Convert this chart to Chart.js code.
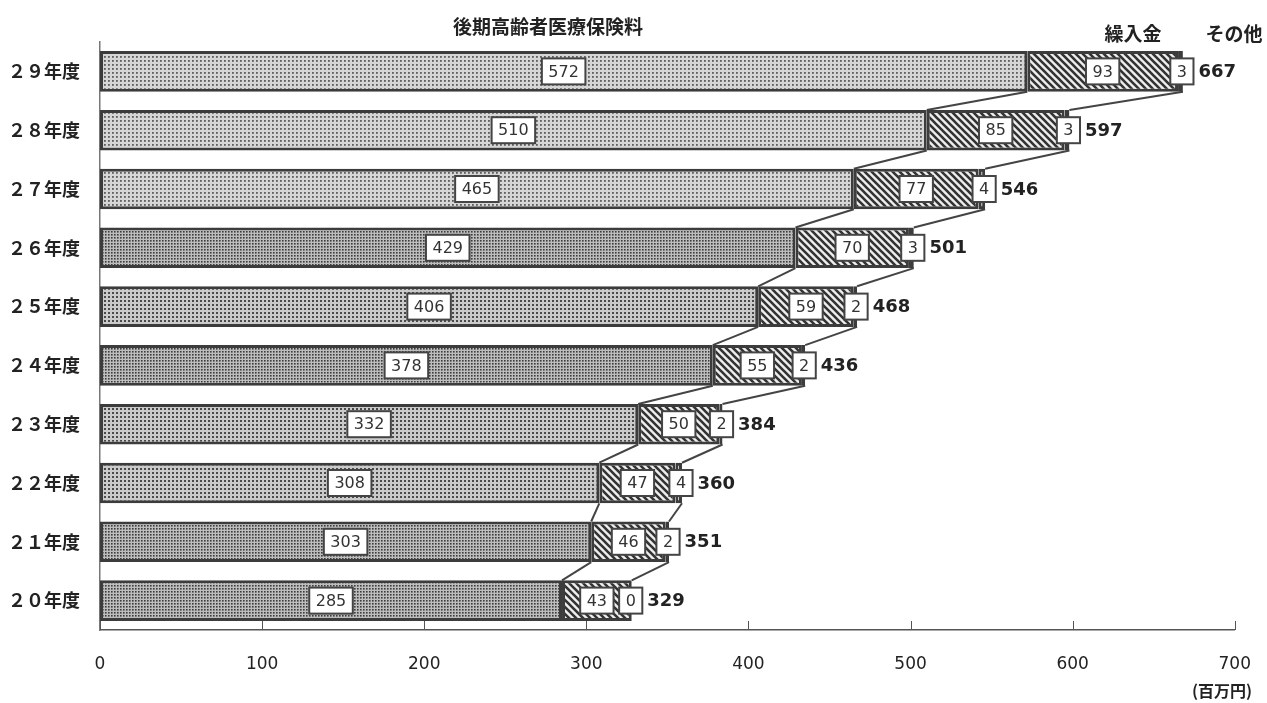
<!DOCTYPE html>
<html lang="ja">
<head>
<meta charset="utf-8">
<title>後期高齢者医療 財源の推移</title>
<script src="https://cdn.jsdelivr.net/npm/chart.js@4.4.1/dist/chart.umd.min.js"></script>
<style>
  html, body { margin: 0; padding: 0; background: #fff; }
  #wrap { position: relative; width: 1267px; height: 703px; }
</style>
</head>
<body>
<div id="wrap"><canvas id="chart"></canvas></div>
<script>
// 年度 (top to bottom)
const years = ["２９年度", "２８年度", "２７年度", "２６年度", "２５年度",
               "２４年度", "２３年度", "２２年度", "２１年度", "２０年度"];

// 財源別 (百万円)
const premium  = [572, 510, 465, 429, 406, 378, 332, 308, 303, 285]; // 後期高齢者医療保険料
const transfer = [93, 85, 77, 70, 59, 55, 50, 47, 46, 43];           // 繰入金
const other    = [3, 3, 4, 3, 2, 2, 2, 4, 2, 0];                     // その他
const totals   = [667, 597, 546, 501, 468, 436, 384, 360, 351, 329];

const seriesNames = ["後期高齢者医療保険料", "繰入金", "その他"];
const xTicks = [0, 100, 200, 300, 400, 500, 600, 700];
const unitLabel = "(百万円)";

const JP = '"Noto Sans CJK JP", "Noto Sans", sans-serif';
const NUM = '"DejaVu Sans", Verdana, sans-serif';
const INK = '#333';

// dotted screen like the printed original
function dotPattern(bg, dot, step, size) {
    const c = document.createElement('canvas');
    c.width = step; c.height = step;
    const g = c.getContext('2d');
    g.fillStyle = bg;
    g.fillRect(0, 0, step, step);
    g.fillStyle = dot;
    g.fillRect(0, 0, size, size);
    return g.createPattern(c, 'repeat');
}

function hatchPattern() {
    const s = 7;
    const c = document.createElement('canvas');
    c.width = s; c.height = s;
    const g = c.getContext('2d');
    g.fillStyle = '#eeeeee';
    g.fillRect(0, 0, s, s);
    g.strokeStyle = '#333';
    g.lineWidth = 2.6;
    g.beginPath();
    g.moveTo(-1, -1); g.lineTo(s + 1, s + 1);
    g.moveTo(-1, s - 1); g.lineTo(1, s + 1);
    g.moveTo(s - 1, -1); g.lineTo(s + 1, 1);
    g.stroke();
    return g.createPattern(c, 'repeat');
}

const lightDots = dotPattern('#d6d6d6', '#5e5e5e', 4, 1.8);
const midDots = dotPattern('#cacaca', '#4a4a4a', 4, 2);
const darkDots = dotPattern('#bdbdbd', '#3c3c3c', 3, 1.6);
const premiumFill = [lightDots, lightDots, lightDots, darkDots, midDots,
                     darkDots, midDots, midDots, darkDots, darkDots];

function drawBox(ctx, text, cx, cy) {
    ctx.font = '16px ' + NUM;
    const w = ctx.measureText(text).width + 13;
    const h = 26;
    ctx.fillStyle = '#fff';
    ctx.fillRect(cx - w / 2, cy - h / 2, w, h);
    ctx.strokeStyle = '#444';
    ctx.lineWidth = 2;
    ctx.strokeRect(cx - w / 2, cy - h / 2, w, h);
    ctx.fillStyle = INK;
    ctx.textAlign = 'center';
    ctx.textBaseline = 'middle';
    ctx.fillText(text, cx, cy + 1);
    return cx + w / 2;
}

// lines joining the segment ends of neighbouring bars
const connectors = {
    id: 'connectors',
    beforeDatasetsDraw(chart) {
        const ctx = chart.ctx;
        ctx.save();
        ctx.strokeStyle = '#444';
        ctx.lineWidth = 2;
        [0, 2].forEach(d => {
            const bars = chart.getDatasetMeta(d).data;
            for (let i = 0; i < bars.length - 1; i++) {
                const a = bars[i], b = bars[i + 1];
                ctx.beginPath();
                ctx.moveTo(a.x, a.y + a.height / 2);
                ctx.lineTo(b.x, b.y - b.height / 2);
                ctx.stroke();
            }
        });
        ctx.restore();
    }
};

const segLabels = {
    id: 'segLabels',
    afterDatasetsDraw(chart) {
        const ctx = chart.ctx;
        ctx.save();
        const n = years.length;
        for (let i = 0; i < n; i++) {
            let lastRight = 0;
            for (let d = 0; d < 3; d++) {
                const bar = chart.getDatasetMeta(d).data[i];
                const v = chart.data.datasets[d].data[i];
                let cx = (bar.base + bar.x) / 2;
                if (d === 2) cx = bar.x - 1;
                lastRight = drawBox(ctx, String(v), cx, bar.y);
            }
            const y = chart.getDatasetMeta(2).data[i].y;
            ctx.font = 'bold 18px ' + NUM;
            ctx.fillStyle = '#222';
            ctx.textAlign = 'left';
            ctx.textBaseline = 'middle';
            ctx.fillText(String(totals[i]), lastRight + 5, y + 1);
        }
        ctx.restore();
    },
    afterDraw(chart) {
        const ctx = chart.ctx;
        const xs = chart.scales.x;
        const area = chart.chartArea;
        ctx.save();
        // small upward ticks on the value axis
        ctx.strokeStyle = '#555';
        ctx.lineWidth = 1;
        xTicks.forEach(v => {
            const x = Math.round(xs.getPixelForValue(v)) + 0.5;
            ctx.beginPath();
            ctx.moveTo(x, area.bottom);
            ctx.lineTo(x, area.bottom - 9);
            ctx.stroke();
        });
        // series names above the top bar
        ctx.fillStyle = '#222';
        ctx.textBaseline = 'middle';
        ctx.textAlign = 'center';
        ctx.font = 'bold 19px ' + JP;
        ctx.fillText(seriesNames[0], 548, 27);
        ctx.fillText(seriesNames[1], 1133, 34);
        ctx.fillText(seriesNames[2], 1234, 34);
        // unit
        ctx.font = 'bold 16px ' + JP;
        ctx.textAlign = 'left';
        ctx.fillText(unitLabel, 1192, 691);
        ctx.restore();
    }
};

new Chart(document.getElementById('chart'), {
    type: 'bar',
    data: {
        labels: years,
        datasets: [
            { label: seriesNames[0], data: premium, backgroundColor: premiumFill },
            { label: seriesNames[1], data: transfer, backgroundColor: hatchPattern() },
            { label: seriesNames[2], data: other, backgroundColor: '#f4f4f4' }
        ].map(ds => Object.assign(ds, {
            borderColor: '#3c3c3c',
            borderWidth: 3,
            borderSkipped: false,
            categoryPercentage: 1,
            barPercentage: 0.69
        }))
    },
    options: {
        indexAxis: 'y',
        responsive: true,
        maintainAspectRatio: false,
        animation: false,
        layout: { padding: { top: 42, right: 29, bottom: 0, left: 0 } },
        plugins: {
            legend: { display: false },
            tooltip: { enabled: false }
        },
        scales: {
            x: {
                stacked: true,
                min: 0,
                max: 700,
                afterBuildTicks: s => { s.ticks = xTicks.map(v => ({ value: v })); },
                grid: { display: false },
                border: { display: true, color: '#555', width: 1.5 },
                ticks: {
                    color: '#222',
                    font: { family: NUM, size: 17 },
                    padding: 16,
                    maxRotation: 0
                },
                afterFit: s => { s.height = 73; }
            },
            y: {
                stacked: true,
                grid: { display: false },
                border: { display: true, color: '#777', width: 1.5 },
                ticks: {
                    color: '#222',
                    font: { family: JP, size: 18, weight: 'bold' },
                    padding: 12
                },
                afterFit: s => { s.width = 100; }
            }
        }
    },
    plugins: [connectors, segLabels]
});
</script>
</body>
</html>
